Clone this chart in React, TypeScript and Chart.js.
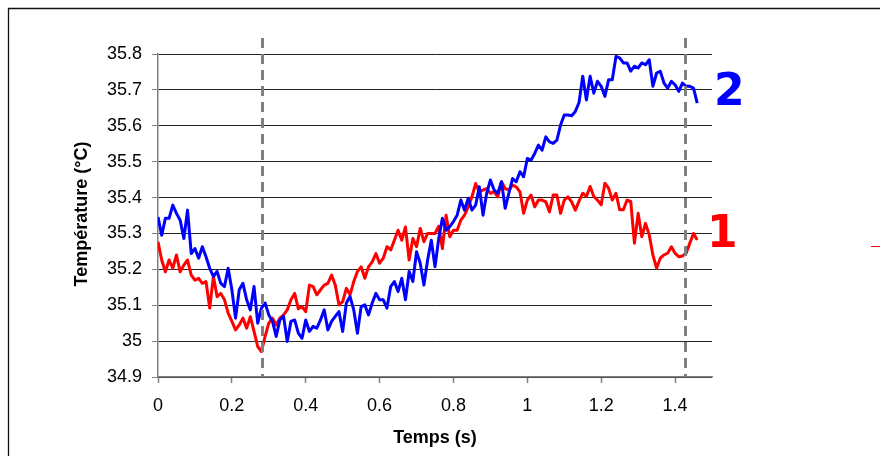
import React, { useEffect, useRef } from "react";
import { Chart, registerables } from "chart.js";

Chart.register(...registerables);

// Sample times (s)
const times = [
  0.00, 0.01, 0.02, 0.03, 0.04, 0.05, 0.06, 0.07, 0.08, 0.09,
  0.10, 0.11, 0.12, 0.13, 0.14, 0.15, 0.16, 0.17, 0.18, 0.19,
  0.20, 0.21, 0.22, 0.23, 0.24, 0.25, 0.26, 0.27, 0.28, 0.29,
  0.30, 0.31, 0.32, 0.33, 0.34, 0.35, 0.36, 0.37, 0.38, 0.39,
  0.40, 0.41, 0.42, 0.43, 0.44, 0.45, 0.46, 0.47, 0.48, 0.49,
  0.50, 0.51, 0.52, 0.53, 0.54, 0.55, 0.56, 0.57, 0.58, 0.59,
  0.60, 0.61, 0.62, 0.63, 0.64, 0.65, 0.66, 0.67, 0.68, 0.69,
  0.70, 0.71, 0.72, 0.73, 0.74, 0.75, 0.76, 0.77, 0.78, 0.79,
  0.80, 0.81, 0.82, 0.83, 0.84, 0.85, 0.86, 0.87, 0.88, 0.89,
  0.90, 0.91, 0.92, 0.93, 0.94, 0.95, 0.96, 0.97, 0.98, 0.99,
  1.00, 1.01, 1.02, 1.03, 1.04, 1.05, 1.06, 1.07, 1.08, 1.09,
  1.10, 1.11, 1.12, 1.13, 1.14, 1.15, 1.16, 1.17, 1.18, 1.19,
  1.20, 1.21, 1.22, 1.23, 1.24, 1.25, 1.26, 1.27, 1.28, 1.29,
  1.30, 1.31, 1.32, 1.33, 1.34, 1.35, 1.36, 1.37, 1.38, 1.39,
  1.40, 1.41, 1.42, 1.43, 1.44, 1.45, 1.46,
];

// Series "1" (red)
const series1 = [
  35.277, 35.226, 35.193, 35.226, 35.203, 35.240, 35.193, 35.212, 35.226, 35.184,
  35.170, 35.175, 35.161, 35.166, 35.092, 35.180, 35.124, 35.133, 35.115, 35.078,
  35.055, 35.031, 35.045, 35.064, 35.036, 35.068, 35.027, 34.985, 34.971, 35.013,
  35.050, 35.064, 35.045, 35.064, 35.073, 35.087, 35.115, 35.133, 35.090, 35.096,
  35.082, 35.156, 35.152, 35.129, 35.143, 35.156, 35.161, 35.184, 35.156, 35.101,
  35.110, 35.147, 35.129, 35.166, 35.194, 35.207, 35.175, 35.207, 35.221, 35.244,
  35.217, 35.231, 35.263, 35.254, 35.281, 35.309, 35.281, 35.318, 35.226, 35.286,
  35.263, 35.314, 35.277, 35.300, 35.300, 35.300, 35.320, 35.258, 35.351, 35.291,
  35.309, 35.309, 35.337, 35.351, 35.374, 35.402, 35.439, 35.416, 35.421, 35.425,
  35.412, 35.416, 35.402, 35.444, 35.425, 35.421, 35.435, 35.430, 35.416, 35.356,
  35.393, 35.407, 35.374, 35.393, 35.393, 35.388, 35.360, 35.407, 35.407, 35.356,
  35.393, 35.402, 35.388, 35.365, 35.390, 35.412, 35.403, 35.431, 35.403, 35.393,
  35.380, 35.440, 35.426, 35.393, 35.412, 35.366, 35.366, 35.393, 35.389, 35.273,
  35.356, 35.291, 35.328, 35.296, 35.240, 35.203, 35.231, 35.240, 35.245, 35.263,
  35.245, 35.235, 35.237, 35.245, 35.273, 35.300, 35.282,
];

// Series "2" (blue)
const series2 = [
  35.346, 35.295, 35.342, 35.342, 35.379, 35.356, 35.337, 35.286, 35.365, 35.244,
  35.258, 35.231, 35.263, 35.235, 35.203, 35.180, 35.194, 35.161, 35.152, 35.203,
  35.143, 35.064, 35.143, 35.161, 35.115, 35.087, 35.152, 35.050, 35.092, 35.106,
  35.073, 35.055, 35.013, 35.059, 35.069, 34.999, 35.055, 35.059, 35.022, 35.008,
  35.059, 35.027, 35.041, 35.036, 35.059, 35.087, 35.031, 35.055, 35.069, 35.082,
  35.027, 35.106, 35.124, 35.087, 35.022, 35.096, 35.101, 35.073, 35.106, 35.133,
  35.115, 35.115, 35.092, 35.152, 35.166, 35.138, 35.175, 35.115, 35.194, 35.166,
  35.249, 35.217, 35.156, 35.226, 35.281, 35.207, 35.285, 35.342, 35.309, 35.319,
  35.333, 35.351, 35.393, 35.365, 35.398, 35.365, 35.379, 35.430, 35.351, 35.412,
  35.449, 35.421, 35.412, 35.444, 35.370, 35.412, 35.453, 35.444, 35.472, 35.458,
  35.509, 35.504, 35.523, 35.546, 35.532, 35.569, 35.555, 35.551, 35.560, 35.602,
  35.630, 35.630, 35.628, 35.640, 35.665, 35.738, 35.672, 35.738, 35.691, 35.724,
  35.710, 35.682, 35.728, 35.728, 35.793, 35.789, 35.775, 35.775, 35.752, 35.766,
  35.761, 35.775, 35.770, 35.784, 35.710, 35.747, 35.752, 35.719, 35.705, 35.724,
  35.714, 35.696, 35.719, 35.710, 35.710, 35.705, 35.663,
];

const seriesNames = ["1", "2"];
const xTicks = [0, 0.2, 0.4, 0.6, 0.8, 1, 1.2, 1.4];
const yTicks = [34.9, 35, 35.1, 35.2, 35.3, 35.4, 35.5, 35.6, 35.7, 35.8];
const xRange = [0, 1.5];
const markerTimes = [0.282, 1.427];
const xTitle = "Temps (s)";
const yTitle = "Température (°C)";

const RED = "#ff0000";
const BLUE = "#0000ff";
const FONT = "'Liberation Sans', Arial, sans-serif";

const overlayPlugin = {
  id: "overlay",
  afterDatasetsDraw(chart: any) {
    const { ctx, chartArea, scales } = chart;
    ctx.save();
    // dashed vertical markers
    ctx.strokeStyle = "#808080";
    ctx.lineWidth = 3;
    ctx.setLineDash([10, 6]);
    markerTimes.forEach((t) => {
      const x = Math.round(scales.x.getPixelForValue(t)) + 0.5;
      ctx.beginPath();
      ctx.moveTo(x, chartArea.top - 16);
      ctx.lineTo(x, chartArea.bottom);
      ctx.stroke();
    });
    ctx.setLineDash([]);
    // series labels
    ctx.font = "bold 44px 'DejaVu Sans', sans-serif";
    ctx.textAlign = "left";
    ctx.textBaseline = "middle";
    ctx.fillStyle = BLUE;
    ctx.fillText(seriesNames[1], chartArea.right + 2, 94);
    ctx.fillStyle = RED;
    ctx.fillText(seriesNames[0], chartArea.right - 5, 236);
    ctx.restore();
  },
  afterDraw(chart: any) {
    const { ctx, chartArea } = chart;
    ctx.save();
    // outer frame
    ctx.strokeStyle = "#111";
    ctx.lineWidth = 1.3;
    ctx.beginPath();
    ctx.moveTo(8.5, 456);
    ctx.lineTo(8.5, 8.5);
    ctx.lineTo(880, 8.5);
    ctx.stroke();
    // small red legend dash at the right edge
    ctx.strokeStyle = RED;
    ctx.lineWidth = 1;
    ctx.beginPath();
    ctx.moveTo(871, 246.5);
    ctx.lineTo(880, 246.5);
    ctx.stroke();
    // axis titles
    ctx.fillStyle = "#000";
    ctx.font = `bold 18px ${FONT}`;
    ctx.textAlign = "center";
    ctx.textBaseline = "middle";
    ctx.fillText(xTitle, (chartArea.left + chartArea.right) / 2, 438);
    ctx.translate(82, 214);
    ctx.rotate(-Math.PI / 2);
    ctx.fillText(yTitle, 0, 0);
    ctx.restore();
  },
};

export default function App() {
  const ref = useRef<HTMLCanvasElement | null>(null);

  useEffect(() => {
    if (!ref.current) return;
    const chart = new Chart(ref.current, {
      type: "line",
      data: {
        datasets: [
          {
            label: seriesNames[1],
            data: times.map((t, i) => ({ x: t, y: series2[i] })),
            borderColor: BLUE,
            borderWidth: 3,
            borderJoinStyle: "round",
            pointRadius: 0,
            tension: 0,
            order: 0,
          },
          {
            label: seriesNames[0],
            data: times.map((t, i) => ({ x: t, y: series1[i] })),
            borderColor: RED,
            borderWidth: 3,
            borderJoinStyle: "round",
            pointRadius: 0,
            tension: 0,
            order: 1,
          },
        ],
      },
      options: {
        animation: false,
        responsive: false,
        devicePixelRatio: 1,
        layout: { padding: { top: 54, right: 168, left: 0, bottom: 0 } },
        plugins: {
          legend: { display: false },
          tooltip: { enabled: false },
        },
        scales: {
          x: {
            type: "linear",
            min: xRange[0],
            max: xRange[1],
            afterFit: (s: any) => {
              s.height = 79;
            },
            afterBuildTicks: (s: any) => {
              s.ticks = xTicks.map((v) => ({ value: v }));
            },
            ticks: {
              color: "#000",
              font: { family: FONT, size: 18 },
              padding: 12,
              maxRotation: 0,
              autoSkip: false,
              callback: (v: any) => String(Number(Number(v).toFixed(1))),
            },
            grid: {
              drawOnChartArea: false,
              drawTicks: true,
              tickLength: 6,
              tickColor: "#808080",
              tickWidth: 1.5,
            },
            border: { display: true, color: "#808080", width: 1.5 },
          },
          y: {
            type: "linear",
            min: yTicks[0],
            max: yTicks[yTicks.length - 1],
            afterFit: (s: any) => {
              s.width = 158;
            },
            afterBuildTicks: (s: any) => {
              s.ticks = yTicks.map((v) => ({ value: v }));
            },
            ticks: {
              color: "#000",
              font: { family: FONT, size: 18 },
              padding: 10,
              autoSkip: false,
              callback: (v: any) => String(Number(Number(v).toFixed(1))),
            },
            grid: {
              color: "#222",
              lineWidth: 1,
              drawTicks: true,
              tickLength: 6,
              tickColor: "#808080",
            },
            border: { display: true, color: "#808080", width: 1.5 },
          },
        },
      },
      plugins: [overlayPlugin],
    });
    return () => chart.destroy();
  }, []);

  return (
    <div style={{ position: "absolute", left: 0, top: 0, width: 880, height: 456, background: "#fff" }}>
      <canvas ref={ref} width={880} height={456} />
    </div>
  );
}
